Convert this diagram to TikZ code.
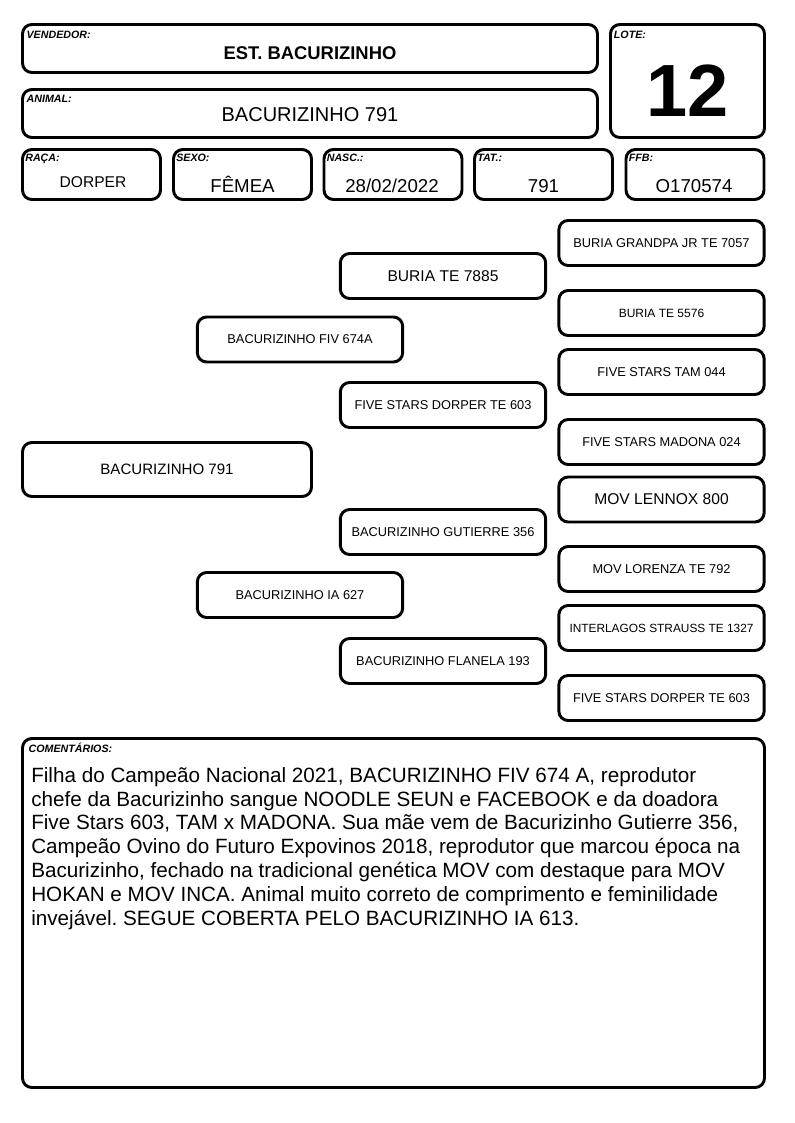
\documentclass[tikz,border=0pt]{standalone}
\usepackage{fontspec}
\setmainfont{Liberation Sans}
\usepackage{tikz}
\frenchspacing

\tikzset{
  box/.style={draw, line width=2.2pt, rounded corners=7pt, inner sep=0pt},
  tag/.style={anchor=base west, inner sep=0pt, font=\fontsize{8}{9}\selectfont\bfseries\itshape},
  val/.style={anchor=base, inner sep=0pt},
  ped/.style={box, minimum width=154pt, minimum height=33.75pt, font=\fontsize{9.6}{11}\selectfont},
}

\begin{document}
\begin{tikzpicture}[x=0.75pt, y=-0.75pt]
\useasboundingbox (0,0) rectangle (794,1123);

% cabecalho
\node[box, minimum width=431.25pt, minimum height=36pt] (vendbox) at (310,48.5) {};
\node[box, minimum width=431.25pt, minimum height=36pt] (animalbox) at (310,113.5) {};
\node[box, minimum width=115.5pt, minimum height=84.75pt] (lotebox) at (687.5,81) {};
\node[tag] (vendtag) at ([xshift=4pt,yshift=-11.5pt]vendbox.north west) {VENDEDOR:};
\node[tag] (animaltag) at ([xshift=4pt,yshift=-11pt]animalbox.north west) {ANIMAL:};
\node[tag] (lotetag) at ([xshift=3.5pt,yshift=-11.5pt]lotebox.north west) {LOTE:};
\node[val, font=\fontsize{13.8}{16}\selectfont\bfseries] (vend) at (310,59.5) {EST. BACURIZINHO};
\node[val, font=\fontsize{15}{18}\selectfont] (animal) at (310,122) {BACURIZINHO 791};
\node[val, font=\fontsize{55.5}{60}\selectfont\bfseries] (lote) at (687.5,117) {12};

% dados
\foreach \name/\x/\lbl in {raca/91.5/RAÇA:, sexo/242.5/SEXO:, nasc/393/NASC.:, tat/543.5/TAT.:, ffb/695/FFB:} {
  \node[box, minimum width=103.5pt, minimum height=37.5pt] (\name box) at (\x,174.5) {};
  \node[tag] (\name tag) at ([xshift=3pt,yshift=-10pt]\name box.north west) {\lbl};
}
\node[val, font=\fontsize{11.7}{14}\selectfont] (raca) at (93,188) {DORPER};
\node[val, font=\fontsize{14}{17}\selectfont] (sexo) at (242.5,193) {FÊMEA};
\node[val, font=\fontsize{14}{17}\selectfont] (nasc) at (392,193) {28/02/2022};
\node[val, font=\fontsize{14}{17}\selectfont] (tat) at (543.5,193) {791};
\node[val, font=\fontsize{14}{17}\selectfont] (ffb) at (694,193) {O170574};

% genealogia
\node[box, minimum width=216.75pt, minimum height=40.5pt, font=\fontsize{11.3}{13}\selectfont] (ind) at (167,469.5) {BACURIZINHO 791};

\node[ped] (pai) at (300,339.5) {BACURIZINHO FIV 674A};
\node[ped] (mae) at (300,595) {BACURIZINHO IA 627};

\node[ped, font=\fontsize{11.7}{14}\selectfont] (paipai) at (443,276) {BURIA TE 7885};
\node[ped] (paimae) at (443,405) {FIVE STARS DORPER TE 603};
\node[ped] (maepai) at (443,532) {BACURIZINHO GUTIERRE 356};
\node[ped] (maemae) at (443,661) {BACURIZINHO FLANELA 193};

\node[ped] (ppp) at (661.5,243) {BURIA GRANDPA JR TE 7057};
\node[ped, font=\fontsize{9}{11}\selectfont] (ppm) at (661.5,313) {BURIA TE 5576};
\node[ped] (pmp) at (661.5,372) {FIVE STARS TAM 044};
\node[ped] (pmm) at (661.5,442) {FIVE STARS MADONA 024};
\node[ped, font=\fontsize{11.7}{14}\selectfont] (mpp) at (661.5,499.5) {MOV LENNOX 800};
\node[ped] (mpm) at (661.5,569) {MOV LORENZA TE 792};
\node[ped, font=\fontsize{8.9}{11}\selectfont] (mmp) at (661.5,628) {INTERLAGOS STRAUSS TE 1327};
\node[ped] (mmm) at (661.5,698) {FIVE STARS DORPER TE 603};

% comentarios
\node[box, minimum width=556.5pt, minimum height=261.75pt] (comentbox) at (393.5,913) {};
\node[tag] (comenttag) at ([xshift=5.5pt,yshift=-11.5pt]comentbox.north west) {COMENTÁRIOS:};
\node[anchor=north west, inner sep=0pt, align=left, font=\fontsize{15.5}{17.85}\selectfont] (coment) at (31,767)
  {Filha do Campeão Nacional 2021, BACURIZINHO FIV 674 A, reprodutor\\
   chefe da Bacurizinho sangue NOODLE SEUN e FACEBOOK e da doadora\\
   Five Stars 603, TAM x MADONA. Sua mãe vem de Bacurizinho Gutierre 356,\\
   Campeão Ovino do Futuro Expovinos 2018, reprodutor que marcou época na\\
   Bacurizinho, fechado na tradicional genética MOV com destaque para MOV\\
   HOKAN e MOV INCA. Animal muito correto de comprimento e feminilidade\\
   invejável. SEGUE COBERTA PELO BACURIZINHO IA 613.};
\end{tikzpicture}
\end{document}
